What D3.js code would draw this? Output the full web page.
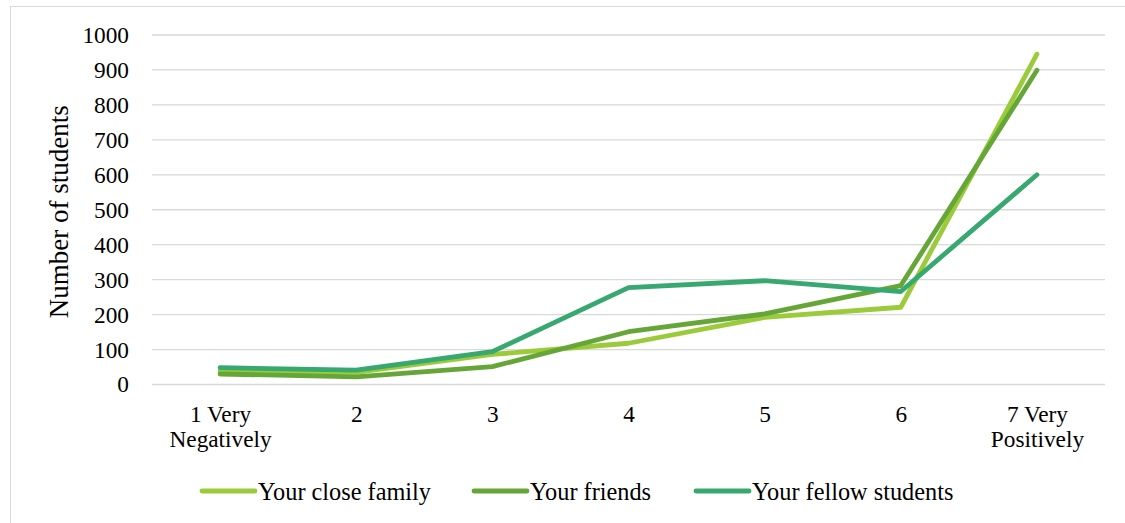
<!DOCTYPE html>
<html>
<head>
<meta charset="utf-8">
<script src="https://cdn.jsdelivr.net/npm/d3@7/dist/d3.min.js"></script>
<style>
  html, body { margin: 0; padding: 0; background: #fff; }
</style>
</head>
<body>
<svg id="chart" width="1125" height="523"></svg>
<script>
// Response categories on the x axis
const categories = ["1 Very\nNegatively", "2", "3", "4", "5", "6", "7 Very\nPositively"];
// Number of students per response
const closeFamily    = [38, 35, 86, 118, 192, 221, 945];
const friends        = [30, 22, 51, 151, 202, 283, 899];
const fellowStudents = [48, 41, 94, 277, 297, 266, 600];
const yTicks = [0, 100, 200, 300, 400, 500, 600, 700, 800, 900, 1000];

const seriesNames  = ["Your close family", "Your friends", "Your fellow students"];
const seriesValues = [closeFamily, friends, fellowStudents];
const seriesColors = ["#9bcb3b", "#66a638", "#37a86f"];

const FONT = "'Liberation Serif', 'Times New Roman', serif";
const setFont = (sel, size) => sel
  .attr("font-family", FONT)
  .style("font-family", FONT)
  .attr("font-size", size)
  .style("font-size", size + "px")
  .attr("fill", "#000");

const svg = d3.select("#chart");
const W = 1125, H = 523;
const plot = { left: 152, right: 1105, top: 35, bottom: 384.5 };

// outer frame
svg.append("rect")
  .attr("x", 10.5).attr("y", 6.5)
  .attr("width", W + 20).attr("height", H + 20)
  .attr("fill", "none").attr("stroke", "#d9d9d9").attr("stroke-width", 1);

const x = d3.scalePoint()
  .domain(categories)
  .range([plot.left, plot.right])
  .padding(0.5);

const y = d3.scaleLinear()
  .domain([0, 1000])
  .range([plot.bottom, plot.top]);

// horizontal gridlines
svg.append("g")
  .selectAll("line")
  .data(yTicks)
  .join("line")
  .attr("x1", plot.left).attr("x2", plot.right)
  .attr("y1", d => y(d)).attr("y2", d => y(d))
  .attr("stroke", "#d9d9d9").attr("stroke-width", 1.3);

// y axis labels
const yAxis = svg.append("g")
  .attr("transform", `translate(${plot.left},0)`)
  .call(d3.axisLeft(y).tickValues(yTicks).tickFormat(d3.format("d")).tickSize(0).tickPadding(23));
yAxis.select(".domain").remove();
setFont(yAxis.selectAll("text"), 23.3);

// x axis labels (two-line where needed)
const xAxis = svg.append("g")
  .attr("transform", `translate(0,${plot.bottom})`)
  .call(d3.axisBottom(x).tickSize(0).tickFormat(""));
xAxis.select(".domain").remove();
xAxis.selectAll(".tick").each(function (d) {
  const t = d3.select(this).append("text").attr("text-anchor", "middle");
  setFont(t, 23.3);
  d.split("\n").forEach((line, i) => {
    t.append("tspan").attr("x", 0).attr("y", 37 + i * 25.5).text(line);
  });
});

// y axis title
setFont(svg.append("text")
  .attr("transform", `translate(68,${(plot.top + plot.bottom) / 2 + 2}) rotate(-90)`)
  .attr("text-anchor", "middle"), 27)
  .text("Number of students");

// series lines
const line = d3.line()
  .x((d, i) => x(categories[i]))
  .y(d => y(d));

svg.append("g")
  .selectAll("path")
  .data(seriesValues)
  .join("path")
  .attr("d", d => line(d))
  .attr("fill", "none")
  .attr("stroke", (d, i) => seriesColors[i])
  .attr("stroke-width", 4.8)
  .attr("stroke-linecap", "round")
  .attr("stroke-linejoin", "round");

// legend
const legendX = [200, 472, 694];
const legendY = 491;
const lg = svg.append("g")
  .selectAll("g")
  .data(seriesNames)
  .join("g")
  .attr("transform", (d, i) => `translate(${legendX[i]},${legendY})`);
lg.append("line")
  .attr("x1", 2).attr("x2", 55)
  .attr("y1", 0).attr("y2", 0)
  .attr("stroke", (d, i) => seriesColors[i])
  .attr("stroke-width", 4.8)
  .attr("stroke-linecap", "round");
setFont(lg.append("text").attr("x", 58).attr("y", 8.5), 24.3)
  .text(d => d);
</script>
</body>
</html>
